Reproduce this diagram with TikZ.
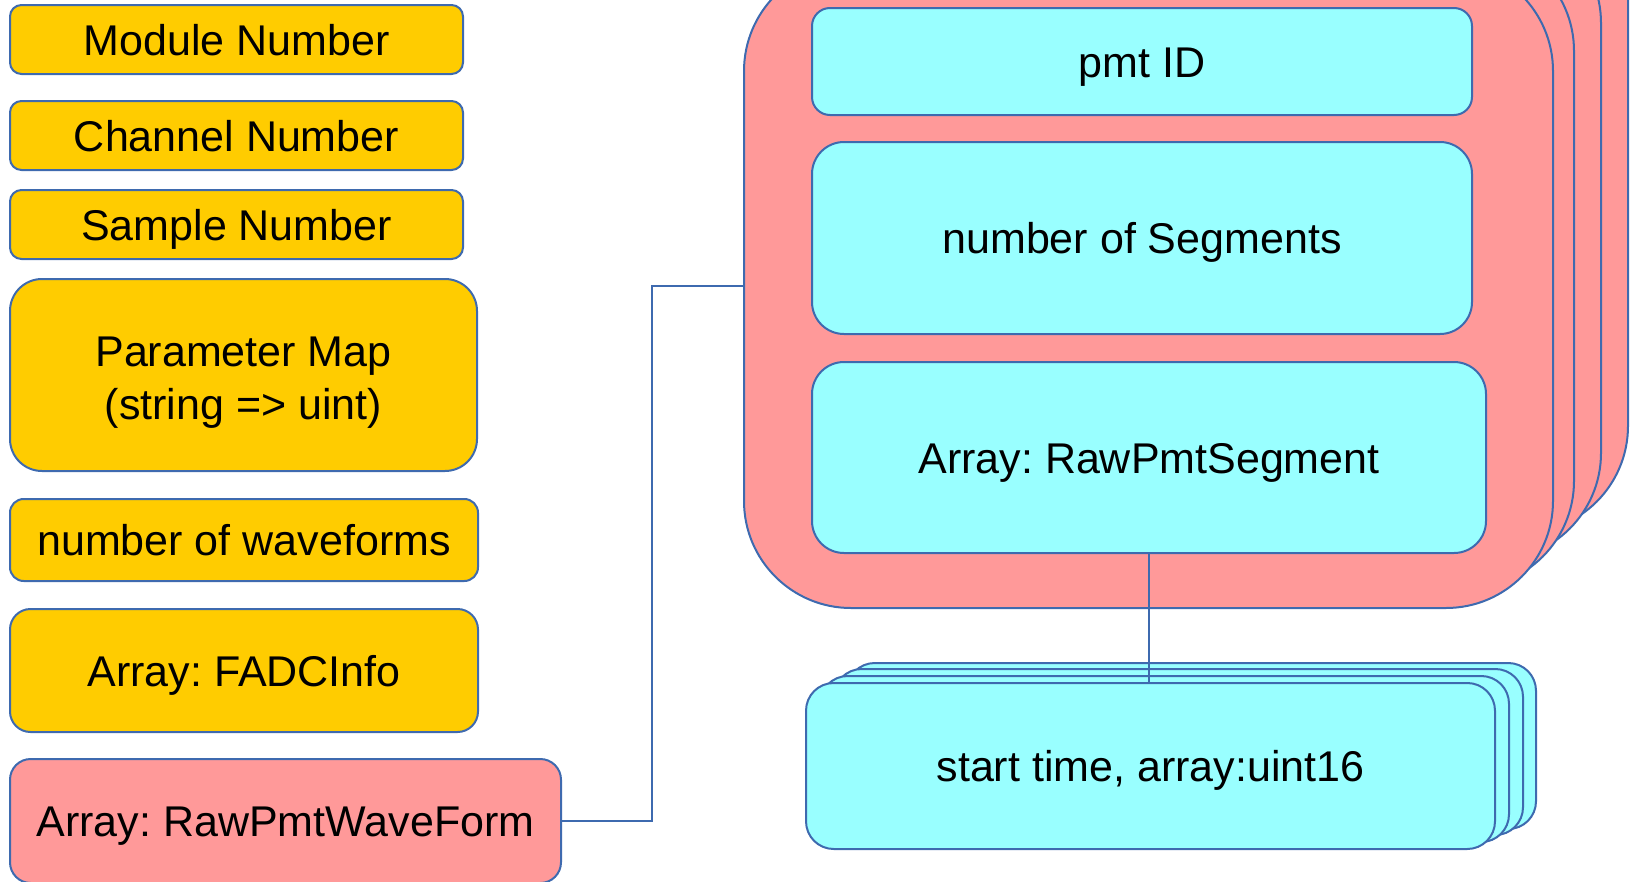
\documentclass[tikz,border=0pt]{standalone}
\usepackage{fontspec}
\setmainfont{Liberation Sans}
\frenchspacing
\definecolor{edge}{RGB}{62,106,175}
\definecolor{gold}{RGB}{255,204,0}
\definecolor{pinkfill}{RGB}{255,153,153}
\definecolor{cyanfill}{RGB}{153,255,255}
\tikzset{
  box/.style={draw=edge, line width=2pt, inner sep=0pt, align=center,
    font=\fontsize{43}{53}\selectfont, text=black, text height=31pt, text depth=0pt},
  ybox/.style={box, fill=gold},
  pbox/.style={box, fill=pinkfill},
  cbox/.style={box, fill=cyanfill},
  conn/.style={draw=edge, line width=1.6pt},
}
\begin{document}
\begin{tikzpicture}[x=1pt, y=-1pt]
\useasboundingbox (0,0) rectangle (1633,881);
\clip (0,0) rectangle (1633,881);
% left column
\node[ybox, minimum width=453pt, minimum height=69pt, rounded corners=11.5pt] (mod) at (236.5,39.5) {Module Number};
\node[ybox, minimum width=453pt, minimum height=69pt, rounded corners=11.5pt] (chan) at (236.5,135.5) {Channel Number};
\node[ybox, minimum width=453pt, minimum height=69pt, rounded corners=11.5pt] (samp) at (236.5,224.5) {Sample Number};
\node[ybox, minimum width=467pt, minimum height=192pt, rounded corners=32pt, text height=89pt, text depth=0pt] (param) at (243.5,375) {Parameter Map\\(string => uint)};
\node[ybox, minimum width=468pt, minimum height=82pt, rounded corners=13.7pt] (nwf) at (244,540) {number of waveforms};
\node[ybox, minimum width=468pt, minimum height=123pt, rounded corners=20.5pt] (fadc) at (244,670.5) {Array: FADCInfo};
\node[pbox, minimum width=551pt, minimum height=124pt, rounded corners=20.7pt] (raw) at (285.5,821) {Array: RawPmtWaveForm};
% pink stack
\node[pbox, minimum width=809pt, minimum height=644pt, rounded corners=107pt] (p4) at (1223.5,211) {};
\node[pbox, minimum width=809pt, minimum height=644pt, rounded corners=107pt] (p3) at (1196.5,238) {};
\node[pbox, minimum width=809pt, minimum height=644pt, rounded corners=107pt] (p2) at (1169.5,266) {};
\node[pbox, minimum width=809pt, minimum height=644pt, rounded corners=107pt] (pf) at (1148.5,286) {};
% inner cyan boxes
\node[cbox, minimum width=660pt, minimum height=107pt, rounded corners=18pt] (pmt) at (1142,61.5) {pmt ID};
\node[cbox, minimum width=660pt, minimum height=192pt, rounded corners=32pt] (nseg) at (1142,238) {number of Segments};
\node[cbox, minimum width=674pt, minimum height=191pt, rounded corners=32pt] (seg) at (1149,457.5) {Array: RawPmtSegment};
% cyan stack
\node[cbox, minimum width=689pt, minimum height=166pt, rounded corners=27.7pt] (s4) at (1191.5,746) {};
\node[cbox, minimum width=689pt, minimum height=166pt, rounded corners=27.7pt] (s3) at (1178.5,752) {};
\node[cbox, minimum width=689pt, minimum height=166pt, rounded corners=27.7pt] (s2) at (1164.5,759) {};
\node[cbox, minimum width=689pt, minimum height=166pt, rounded corners=27.7pt] (st) at (1150.5,766) {start time, array:uint16};
% connectors
\coordinate (bend) at (652,821);
\draw[conn] (raw.east) -- (bend) |- (pf.west);
\draw[conn] (seg.south) -- (seg.south |- st.north);
\end{tikzpicture}
\end{document}
